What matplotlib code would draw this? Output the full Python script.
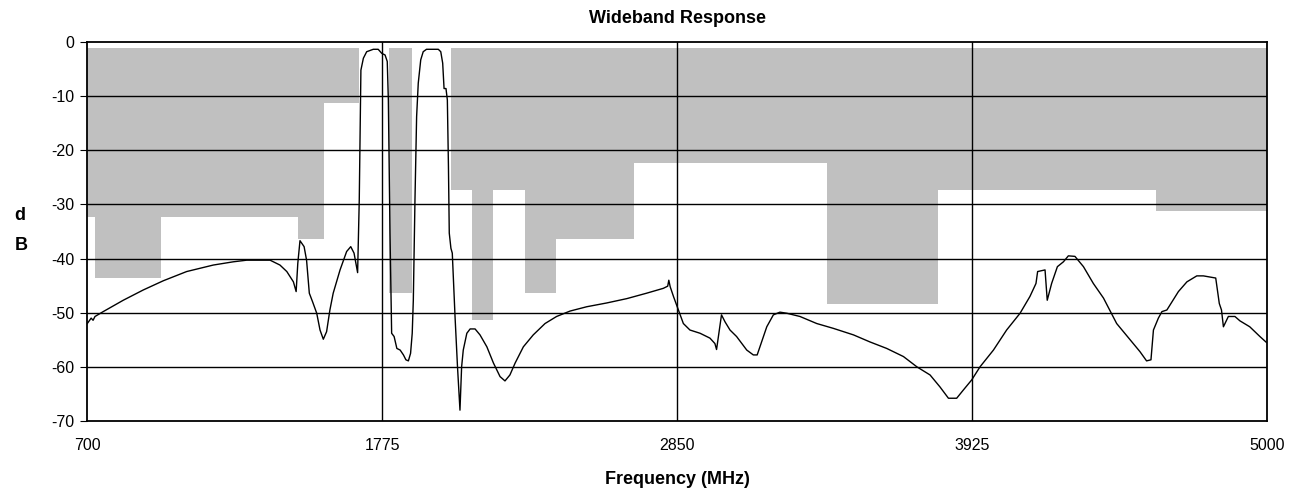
import matplotlib.pyplot as plt
import numpy as np

plt.rcParams['font.family'] = ['Liberation Sans', 'DejaVu Sans']

# mask (gray) : band edges in MHz and the lower level of each band in dB
mask_top = -1.1
mask_edges = [700, 728, 968, 1468, 1562, 1692, 1802, 1883, 2025, 2104, 2180,
              2296, 2408, 2694, 3395, 3802, 4595, 5000]
mask_levels = [-32.3, -43.5, -32.3, -36.4, -11.3, -1.1, -46.3, -1.1, -27.3,
               -51.3, -27.3, -46.3, -36.4, -22.4, -48.4, -27.3, -31.3]

# measured response
freq = [701, 715, 722, 729, 759, 832, 905, 978, 1063, 1160, 1233, 1282, 1367,
        1403, 1428, 1452, 1462, 1468, 1476, 1491, 1500, 1510, 1522, 1537, 1549,
        1561, 1573, 1585, 1597, 1622, 1646, 1661, 1673, 1680, 1686, 1692, 1698,
        1707, 1719, 1743, 1761, 1774, 1786, 1794, 1798, 1804, 1810, 1819, 1829,
        1841, 1853, 1862, 1871, 1879, 1885, 1889, 1895, 1901, 1907, 1916, 1925,
        1937, 1980, 1989, 1996, 2001, 2008, 2013, 2017, 2020, 2026, 2031, 2041,
        2050, 2059, 2065, 2071, 2084, 2096, 2114, 2132, 2157, 2181, 2205, 2223,
        2241, 2260, 2290, 2326, 2369, 2411, 2460, 2521, 2594, 2667, 2739, 2800,
        2816, 2820, 2825, 2837, 2855, 2873, 2897, 2934, 2970, 2988, 2994, 3012,
        3025, 3043, 3067, 3104, 3128, 3142, 3152, 3177, 3201, 3225, 3250, 3298,
        3359, 3420, 3493, 3553, 3614, 3675, 3724, 3772, 3808, 3839, 3869, 3893,
        3924, 3954, 4003, 4051, 4100, 4136, 4158, 4164, 4191, 4199, 4215, 4236,
        4258, 4276, 4300, 4331, 4367, 4404, 4452, 4501, 4537, 4561, 4577, 4586,
        4604, 4617, 4635, 4677, 4708, 4744, 4768, 4813, 4826, 4834, 4841, 4859,
        4883, 4901, 4937, 4974, 4998]
resp = [-52.0, -51.0, -51.4, -50.7, -49.8, -47.7, -45.8, -44.1, -42.4, -41.2,
        -40.6, -40.3, -40.3, -41.2, -42.4, -44.3, -46.1, -40.9, -36.7, -37.8,
        -40.3, -46.4, -48.0, -50.1, -53.2, -54.9, -53.5, -49.5, -46.4, -42.1,
        -38.7, -37.8, -39.0, -40.9, -42.6, -29.2, -5.2, -3.0, -1.8, -1.35, -1.35,
        -2.1, -2.4, -3.6, -10.7, -35.3, -53.8, -54.4, -56.6, -56.9, -57.8, -58.7,
        -58.9, -57.5, -53.8, -47.7, -29.2, -13.8, -7.6, -3.3, -1.8, -1.35, -1.35,
        -1.8, -3.9, -8.6, -8.6, -10.7, -23.0, -35.3, -38.1, -39.0, -50.7, -60.0,
        -68.0, -60.0, -56.9, -53.8, -53.0, -53.0, -54.1, -56.3, -59.3, -61.8,
        -62.6, -61.5, -59.3, -56.3, -54.1, -52.0, -50.7, -49.7, -48.9, -48.2,
        -47.4, -46.4, -45.5, -45.1, -44.0, -45.2, -47.0, -49.5, -52.0, -53.2,
        -53.8, -54.7, -55.7, -56.8, -50.4, -51.7, -53.2, -54.4, -56.9, -57.8,
        -57.8, -56.3, -52.6, -50.4, -49.9, -50.1, -50.7, -52.0, -52.9, -54.1,
        -55.4, -56.6, -58.1, -60.0, -61.5, -63.7, -65.8, -65.8, -64.3, -62.4,
        -60.0, -56.9, -53.2, -50.1, -47.0, -44.6, -42.4, -42.1, -47.7, -44.6,
        -41.5, -40.6, -39.5, -39.6, -41.5, -44.6, -47.3, -52.0, -55.0, -57.2,
        -58.9, -58.7, -53.2, -51.0, -49.8, -49.5, -46.1, -44.3, -43.2, -43.2,
        -43.6, -48.3, -49.5, -52.6, -50.7, -50.7, -51.5, -52.6, -54.4, -55.5]

x_ticks = [700, 1775, 2850, 3925, 5000]
y_ticks = [0, -10, -20, -30, -40, -50, -60, -70]

fig = plt.figure(figsize=(12.99, 4.91), dpi=100)
ax = fig.add_axes([0.067, 0.1426, 0.9084, 0.7719])

ax.stairs(mask_levels, mask_edges, baseline=mask_top, fill=True,
          color='#c0c0c0', linewidth=0, zorder=1)

for yv in y_ticks[1:-1]:
    ax.axhline(yv, color='black', linewidth=1.0, zorder=2)
for xv in x_ticks[1:-1]:
    ax.axvline(xv, color='black', linewidth=1.0, zorder=2)

ax.plot(freq, resp, color='black', linewidth=1.0, zorder=3)

ax.set_xlim(700, 5000)
ax.set_ylim(-70, 0)
ax.set_xticks(x_ticks)
ax.set_yticks(y_ticks)
ax.set_xticklabels([str(v) for v in x_ticks], fontsize=11.5)
ax.set_yticklabels([str(v) for v in y_ticks], fontsize=11.5)
ax.tick_params(axis='x', length=0, pad=12)
ax.tick_params(axis='y', length=5, direction='out', pad=4)
for s in ax.spines.values():
    s.set_linewidth(1.3)

ax.set_title('Wideband Response', fontsize=13, fontweight='bold', pad=14)
ax.set_xlabel('Frequency (MHz)', fontsize=13, fontweight='bold', labelpad=13)
fig.text(0.011, 0.53, 'd\nB', fontsize=13, fontweight='bold', va='center',
         ha='left', linespacing=2.0)

plt.savefig('out.png')
